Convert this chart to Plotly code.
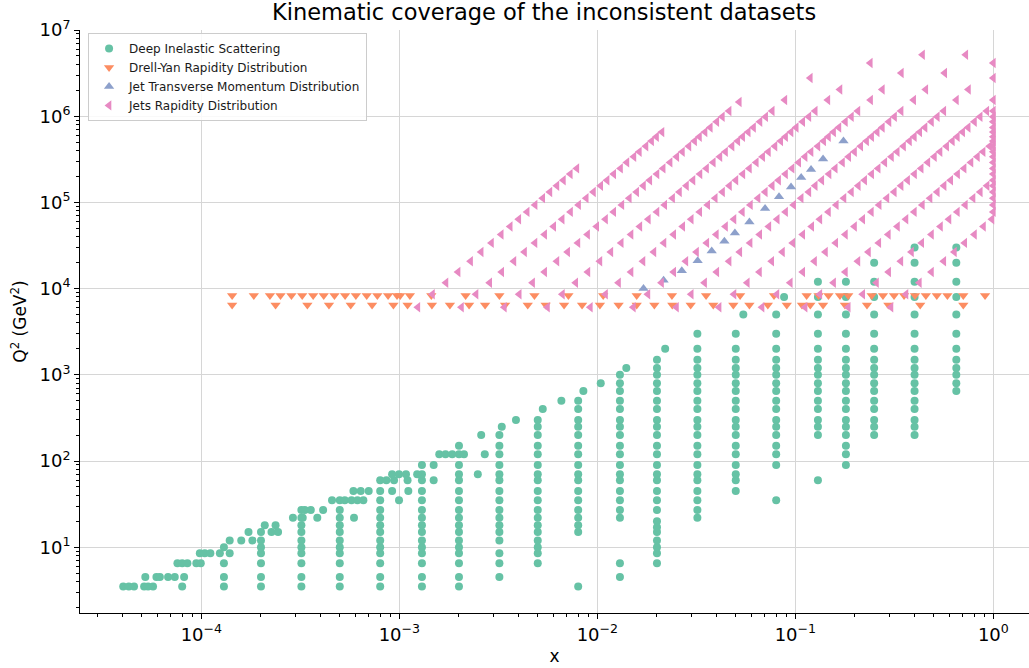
import plotly.graph_objects as go

# ======================= DATA =======================
# ---- Deep Inelastic Scattering: fixed-x columns and the Q2 values in each ----
dis_col_x = [1.3e-4, 2e-4, 3.2e-4, 5e-4, 8e-4, 1.3e-3, 2e-3, 3.2e-3, 5e-3, 8e-3,
             1.3e-2, 2e-2, 3.2e-2, 5e-2, 8e-2, 0.13, 0.18, 0.25, 0.40, 0.65]
dis_q2_c01 = [3.5, 4.5, 6.5, 10]
dis_q2_c02 = [3.5, 4.5, 6.5, 8.5, 10, 12, 15]
dis_q2_c03 = [3.5, 4.5, 6.5, 8.5, 10, 12, 15, 18, 22, 27]
dis_q2_c04 = [3.5, 4.5, 6.5, 8.5, 10, 12, 15, 18, 22, 27, 35]
dis_q2_c05 = [3.5, 4.5, 6.5, 8.5, 10, 12, 15, 18, 22, 27, 35, 45, 60]
dis_q2_c06 = [3.5, 4.5, 6.5, 8.5, 10, 12, 15, 18, 22, 27, 35, 45, 60, 70, 90]
dis_q2_c07 = [3.5, 4.5, 6.5, 8.5, 10, 12, 15, 18, 22, 27, 35, 45, 60, 70, 90, 120, 150]
dis_q2_c08 = [4.5, 6.5, 8.5, 12, 15, 18, 22, 27, 35, 45, 60, 70, 90, 120, 150, 200]
dis_q2_c09 = [6.5, 8.5, 10, 12, 15, 18, 22, 27, 35, 45, 60, 70, 90, 120, 150, 200, 250, 300]
dis_q2_c10 = [3.5, 15, 18, 22, 27, 35, 45, 60, 70, 90, 120, 150, 200, 250, 300, 400, 500]
dis_q2_c11 = [4.5, 6.5, 22, 27, 35, 45, 60, 70, 90, 120, 150, 200, 250, 300, 400, 500,
              650, 800, 1000]
dis_q2_c12 = [6.5, 8.5, 10, 12, 15, 17, 20, 27, 35, 45, 60, 70, 90, 120, 150, 200, 250,
              300, 400, 500, 650, 800, 1000, 1200, 1500]
dis_q2_c13 = [22, 27, 35, 45, 60, 70, 90, 120, 150, 200, 250, 300, 400, 500, 650, 800,
              1000, 1200, 1500, 2000, 3000]
dis_q2_c14 = [45, 60, 70, 90, 120, 150, 200, 250, 300, 400, 500, 650, 800, 1000, 1200,
              1500, 2000, 3000]
dis_q2_c15 = [35, 90, 120, 150, 200, 250, 300, 400, 500, 650, 800, 1000, 1200, 1500,
              2000, 3000, 5000]
dis_q2_c16 = [60, 200, 250, 300, 400, 500, 650, 800, 1000, 1200, 1500, 2000, 3000, 5000,
              8000, 12000]
dis_q2_c17 = [90, 120, 150, 200, 250, 300, 400, 500, 650, 800, 1000, 1200, 1500, 2000,
              3000, 5000, 8000, 12000]
dis_q2_c18 = [200, 250, 300, 400, 500, 650, 800, 1000, 1200, 1500, 2000, 3000, 5000,
              8000, 12000, 20000]
dis_q2_c19 = [200, 250, 300, 400, 500, 650, 800, 1000, 1200, 1500, 2000, 3000, 5000,
              8000, 12000, 20000, 30000]
dis_q2_c20 = [650, 800, 1000, 1200, 1500, 2000, 3000, 5000, 8000, 12000, 20000, 30000]

# DIS points off the regular grid (low-x edge and scattered points)
dis_extra_x = [4.03e-5, 4.30e-5, 4.57e-5, 5.14e-5, 5.38e-5, 5.70e-5, 8.0e-5,
               5.21e-5, 5.93e-5, 6.17e-5, 6.79e-5, 7.34e-5, 8.18e-5,
               7.57e-5, 8.0e-5, 8.5e-5, 9.43e-5, 9.93e-5,
               9.82e-5, 1.04e-4, 1.11e-4, 1.24e-4, 1.39e-4,
               1.39e-4, 1.59e-4, 1.81e-4,
               1.73e-4, 2.26e-4, 2.44e-4,
               2.09e-4, 2.37e-4,
               2.90e-4, 3.25e-4, 3.85e-4, 5.90e-4,
               3.33e-4, 3.57e-4, 4.12e-4,
               4.57e-4, 5.30e-4, 5.73e-4, 6.14e-4, 6.58e-4, 9.96e-4,
               5.86e-4, 6.38e-4, 7.00e-4, 9.19e-4, 1.11e-3,
               8.60e-4, 9.40e-4, 1.10e-3, 1.49e-3,
               9.19e-4, 9.96e-4, 1.08e-3, 1.23e-3, 2.49e-3,
               1.49e-3,
               1.59e-3, 1.71e-3, 1.85e-3, 2.12e-3, 2.70e-3,
               2.59e-3, 3.29e-3, 3.88e-3, 5.30e-3, 6.58e-3, 8.50e-3, 1.04e-2, 1.40e-2,
               2.20e-2, 5.46e-2, 8.77e-2]
dis_extra_q2 = [3.5, 3.5, 3.5, 3.5, 3.5, 3.5, 3.5,
                4.5, 4.5, 4.5, 4.5, 4.5, 4.5,
                6.5, 6.5, 6.5, 6.5, 6.5,
                8.5, 8.5, 8.5, 8.5, 8.5,
                12, 12, 12,
                15, 15, 15,
                18, 18,
                22, 22, 22, 22,
                27, 27, 27,
                35, 35, 35, 35, 35, 35,
                45, 45, 45, 45, 45,
                60, 60, 60, 60,
                70, 70, 70, 70, 70,
                90,
                120, 120, 120, 120, 120,
                200, 250, 300, 400, 500, 650, 800, 1200, 2000, 5000, 8000]

# ---- Drell-Yan rapidity distributions (Z and W mass rows) ----
dy_z_q2 = 8315
dy_z_x = [1.43e-4, 1.84e-4, 2.22e-4, 2.51e-4, 2.85e-4, 3.23e-4, 3.67e-4, 4.15e-4,
          4.70e-4, 5.32e-4, 6.03e-4, 6.84e-4, 7.74e-4, 8.77e-4, 9.73e-4, 1.01e-3,
          1.13e-3, 1.45e-3, 2.16e-3, 3.20e-3, 4.81e-3, 7.14e-3, 1.07e-2, 1.58e-2,
          2.38e-2, 3.54e-2, 5.26e-2, 7.80e-2, 0.114, 0.131, 0.147, 0.168, 0.185,
          0.243, 0.277, 0.315, 0.354, 0.402, 0.456, 0.518, 0.586, 0.705, 0.908]
dy_w_q2 = 6464
dy_w_x = [1.43e-4, 2.37e-4, 3.43e-4, 4.41e-4, 5.68e-4, 7.28e-4, 9.33e-4, 1.10e-3,
          1.46e-3, 1.80e-3, 2.25e-3, 2.71e-3, 3.42e-3, 4.45e-3, 5.48e-3, 6.79e-3,
          8.37e-3, 1.03e-2, 1.28e-2, 1.58e-2, 1.94e-2, 2.39e-2, 2.96e-2, 3.85e-2,
          4.86e-2, 5.86e-2, 7.26e-2, 9.05e-2, 0.108, 0.119, 0.138, 0.178, 0.230,
          0.295, 0.427, 0.705]

# ---- Jet transverse momentum distribution ----
jpt_x = [0.0171, 0.0216, 0.0267, 0.0321, 0.0378, 0.0438, 0.0495, 0.0586, 0.0703,
         0.0827, 0.0951, 0.107, 0.120, 0.138, 0.175]
jpt_q2 = [10000, 12500, 16100, 21000, 27300, 35400, 44300, 59400, 85000, 116000,
          151000, 195000, 241000, 318000, 514000]

# ---- Jets rapidity distribution: Q2 (pT^2) rows and x of each rapidity bin ----
jets_q2_rows = [6070, 8590, 11700, 15600, 20800, 26600, 33900, 42400, 52500, 63800,
                77600, 93500, 112000, 132000, 156000, 181000, 213000, 248000, 291000,
                338000, 386000, 449000, 514000, 577000, 654000, 741000, 861000,
                984000, 1150000]
jets_x_bin01 = [1.24e-3, 1.47e-3, 1.72e-3, 1.98e-3, 2.29e-3, 2.59e-3, 2.92e-3, 3.27e-3,
                3.63e-3, 4.01e-3, 4.42e-3, 4.85e-3, 5.30e-3, 5.76e-3, 6.25e-3, 6.74e-3,
                7.30e-3, 7.88e-3]
jets_x_bin02 = [2.06e-3, 2.44e-3, 2.86e-3, 3.29e-3, 3.79e-3, 4.29e-3, 4.84e-3, 5.42e-3,
                6.02e-3, 6.64e-3, 7.32e-3, 8.04e-3, 8.79e-3, 9.56e-3, 1.04e-2, 1.12e-2,
                1.21e-2, 1.31e-2, 1.41e-2, 1.53e-2, 1.63e-2, 1.76e-2, 1.88e-2, 1.99e-2,
                2.12e-2]
jets_x_bin03 = [3.39e-3, 4.03e-3, 4.71e-3, 5.42e-3, 6.25e-3, 7.08e-3, 7.98e-3, 8.93e-3,
                9.93e-3, 1.10e-2, 1.21e-2, 1.33e-2, 1.45e-2, 1.58e-2, 1.71e-2, 1.84e-2,
                2.00e-2, 2.15e-2, 2.33e-2, 2.52e-2, 2.69e-2, 2.90e-2, 3.10e-2, 3.28e-2,
                3.50e-2, 3.72e-2, 4.01e-2, 4.28e-2, 4.63e-2]
jets_x_bin04 = [5.60e-3, 6.66e-3, 7.78e-3, 8.96e-3, 1.03e-2, 1.17e-2, 1.32e-2, 1.48e-2,
                1.64e-2, 1.81e-2, 2.00e-2, 2.19e-2, 2.40e-2, 2.60e-2, 2.82e-2, 3.04e-2,
                3.30e-2, 3.56e-2, 3.85e-2, 4.16e-2, 4.44e-2, 4.79e-2, 5.12e-2, 5.42e-2,
                5.78e-2, 6.15e-2, 6.63e-2, 7.08e-2, 7.64e-2]
jets_x_bin05 = [9.22e-3, 1.10e-2, 1.28e-2, 1.48e-2, 1.70e-2, 1.93e-2, 2.17e-2, 2.43e-2,
                2.70e-2, 2.98e-2, 3.29e-2, 3.61e-2, 3.94e-2, 4.29e-2, 4.65e-2, 5.01e-2,
                5.43e-2, 5.86e-2, 6.35e-2, 6.84e-2, 7.31e-2, 7.89e-2, 8.44e-2, 8.93e-2,
                9.51e-2, 0.101, 0.109, 0.117, 0.126]
jets_x_bin06 = [1.52e-2, 1.80e-2, 2.11e-2, 2.43e-2, 2.80e-2, 3.17e-2, 3.57e-2, 3.99e-2,
                4.44e-2, 4.90e-2, 5.40e-2, 5.93e-2, 6.48e-2, 7.05e-2, 7.64e-2, 8.23e-2,
                8.92e-2, 9.63e-2, 0.104, 0.112, 0.120, 0.130, 0.139, 0.147, 0.156,
                0.166, 0.179, 0.192, 0.207]
jets_x_bin07 = [2.51e-2, 2.98e-2, 3.48e-2, 4.01e-2, 4.63e-2, 5.24e-2, 5.91e-2, 6.61e-2,
                7.35e-2, 8.10e-2, 8.93e-2, 9.81e-2, 0.107, 0.117, 0.126, 0.136, 0.148,
                0.159, 0.173, 0.186, 0.199, 0.214, 0.229, 0.243, 0.259, 0.275, 0.297,
                0.317, 0.342]
jets_x_bin08 = [4.12e-2, 4.90e-2, 5.72e-2, 6.59e-2, 7.60e-2, 8.61e-2, 9.70e-2, 0.109,
                0.121, 0.133, 0.147, 0.161, 0.176, 0.192, 0.208, 0.224, 0.243, 0.262,
                0.283, 0.306, 0.327, 0.352, 0.377, 0.399, 0.425, 0.452, 0.487, 0.521,
                0.562]
jets_x_bin09 = [6.79e-2, 8.07e-2, 9.43e-2, 0.109, 0.125, 0.142, 0.160, 0.179, 0.199,
                0.219, 0.242, 0.265, 0.290, 0.316, 0.342, 0.369, 0.400, 0.432, 0.467,
                0.504, 0.538, 0.581, 0.621, 0.658, 0.700, 0.746, 0.803, 0.858, 0.927]
jets_x_bin10 = [0.112, 0.133, 0.156, 0.179, 0.207, 0.234, 0.264, 0.295, 0.328, 0.362,
                0.399, 0.438, 0.479, 0.521, 0.564, 0.609, 0.660, 0.712, 0.771, 0.831,
                0.888, 0.958]
jets_x_bin11 = [0.185, 0.219, 0.257, 0.296, 0.341, 0.386, 0.435, 0.487, 0.541, 0.597,
                0.658, 0.722, 0.790, 0.859, 0.930]
jets_x_bin12 = [0.304, 0.362, 0.423, 0.487, 0.562, 0.636, 0.717, 0.803, 0.892, 0.984]
# highest-pT (wide) bins
jets_top_x = [5.21e-2, 8.85e-2, 0.119, 0.146, 0.168, 0.239, 0.240, 0.275, 0.343, 0.439,
              0.396, 0.456, 0.568, 0.726, 0.651, 0.749]
jets_top_q2 = [1460000, 1540000, 2770000, 1540000, 2040000, 4140000, 1540000, 2040000,
               3170000, 5170000, 1540000, 2040000, 3170000, 5170000, 1540000, 2040000]
# points at the x = 1 edge
jets_edge_x = [1.0, 1.0, 1.0, 1.0, 1.0, 1.0, 1.0, 1.0, 1.0, 1.0, 1.0, 1.0, 1.0, 1.0,
               1.0, 1.0, 1.0, 1.0, 1.0, 1.0, 1.0, 1.0]
jets_edge_q2 = [77600, 93500, 112000, 132000, 156000, 181000, 213000, 248000, 291000,
                338000, 386000, 449000, 514000, 577000, 654000, 741000, 861000, 984000,
                1150000, 1540000, 2770000, 4140000]

# ---- axis ticks ----
x_tick_vals = [1e-4, 1e-3, 1e-2, 1e-1, 1e0]
x_tick_text = ["10<sup>\u22124</sup>", "10<sup>\u22123</sup>", "10<sup>\u22122</sup>",
               "10<sup>\u22121</sup>", "10<sup>0</sup>"]
y_tick_vals = [1e1, 1e2, 1e3, 1e4, 1e5, 1e6, 1e7]
y_tick_text = ["10<sup>1</sup>", "10<sup>2</sup>", "10<sup>3</sup>", "10<sup>4</sup>",
               "10<sup>5</sup>", "10<sup>6</sup>", "10<sup>7</sup>"]

# ======================= FIGURE =======================
COL_DIS, COL_DY, COL_JPT, COL_JRAP = "#66c2a5", "#fc8d62", "#8da0cb", "#e78ac3"

dis_cols = [dis_q2_c01, dis_q2_c02, dis_q2_c03, dis_q2_c04, dis_q2_c05, dis_q2_c06,
            dis_q2_c07, dis_q2_c08, dis_q2_c09, dis_q2_c10, dis_q2_c11, dis_q2_c12,
            dis_q2_c13, dis_q2_c14, dis_q2_c15, dis_q2_c16, dis_q2_c17, dis_q2_c18,
            dis_q2_c19, dis_q2_c20]
dis_x, dis_q2 = [], []
for xv, q2s in zip(dis_col_x, dis_cols):
    dis_x += [xv] * len(q2s)
    dis_q2 += list(q2s)
dis_x += dis_extra_x
dis_q2 += dis_extra_q2

dy_x = dy_z_x + dy_w_x
dy_q2 = [dy_z_q2] * len(dy_z_x) + [dy_w_q2] * len(dy_w_x)

jets_bins = [jets_x_bin01, jets_x_bin02, jets_x_bin03, jets_x_bin04, jets_x_bin05,
             jets_x_bin06, jets_x_bin07, jets_x_bin08, jets_x_bin09, jets_x_bin10,
             jets_x_bin11, jets_x_bin12]
jr_x, jr_q2 = [], []
for xs in jets_bins:
    jr_x += xs
    jr_q2 += jets_q2_rows[:len(xs)]
jr_x += jets_top_x + jets_edge_x
jr_q2 += jets_top_q2 + jets_edge_q2

fig = go.Figure()
fig.add_trace(go.Scatter(x=dis_x, y=dis_q2, mode="markers", name="Deep Inelastic Scattering",
                         marker=dict(symbol="circle", size=8, color=COL_DIS, line=dict(width=0))))
fig.add_trace(go.Scatter(x=dy_x, y=dy_q2, mode="markers", name="Drell-Yan Rapidity Distribution",
                         marker=dict(symbol="triangle-down", size=9, color=COL_DY, line=dict(width=0))))
fig.add_trace(go.Scatter(x=jpt_x, y=jpt_q2, mode="markers",
                         name="Jet Transverse Momentum Distribution",
                         marker=dict(symbol="triangle-up", size=9, color=COL_JPT, line=dict(width=0))))
fig.add_trace(go.Scatter(x=jr_x, y=jr_q2, mode="markers", name="Jets Rapidity Distribution",
                         marker=dict(symbol="triangle-left", size=9, color=COL_JRAP, line=dict(width=0))))

x_minor = [m * 10.0 ** e for e in range(-5, 1) for m in range(2, 10)]
y_minor = [m * 10.0 ** e for e in range(0, 7) for m in range(2, 10)]

axis_common = dict(type="log", ticks="outside", ticklen=5, tickwidth=1, tickcolor="black",
                   showline=True, linecolor="black", linewidth=1, mirror=False,
                   showgrid=True, gridcolor="#d6d6d6", gridwidth=1, zeroline=False,
                   tickfont=dict(size=18, color="black"))

fig.update_xaxes(range=[-4.613, 0.18], tickmode="array", tickvals=x_tick_vals,
                 ticktext=x_tick_text,
                 minor=dict(tickvals=x_minor, ticks="outside", ticklen=3, tickwidth=0.8,
                            tickcolor="black", showgrid=False),
                 title=dict(text="x", font=dict(size=17, color="black"), standoff=6),
                 **axis_common)
fig.update_yaxes(range=[0.237, 7.0], tickmode="array", tickvals=y_tick_vals,
                 ticktext=y_tick_text,
                 minor=dict(tickvals=y_minor, ticks="outside", ticklen=3, tickwidth=0.8,
                            tickcolor="black", showgrid=False),
                 title=dict(text="Q<sup>2</sup> (GeV<sup>2</sup>)",
                            font=dict(size=17, color="black"), standoff=8),
                 **axis_common)

fig.update_layout(
    width=1029, height=668,
    margin=dict(l=80, r=0, t=30, b=55),
    paper_bgcolor="white", plot_bgcolor="white",
    font=dict(family="DejaVu Sans", size=16, color="black"),
    title=dict(text="Kinematic coverage of the inconsistent datasets",
               x=0.489, xref="paper", xanchor="center",
               y=0.982, yref="container", yanchor="middle",
               font=dict(size=22.5, color="black")),
    legend=dict(x=0.0085, y=0.995, xanchor="left", yanchor="top",
                bgcolor="rgba(255,255,255,0.85)", bordercolor="#cccccc", borderwidth=1,
                font=dict(size=12, color="#1a1a1a"), tracegroupgap=0),
    showlegend=True,
)

fig.write_html("out.html")
